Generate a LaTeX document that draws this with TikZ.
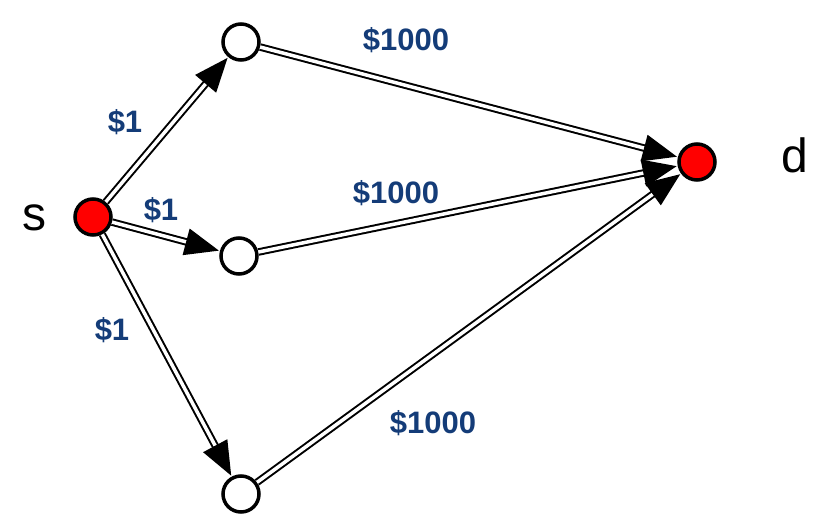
\documentclass[tikz,border=0pt]{standalone}
\usepackage{fontspec}
\setmainfont{Liberation Sans}
\usetikzlibrary{arrows.meta}
\definecolor{lbl}{RGB}{20,60,120}
\begin{document}
\begin{tikzpicture}[x=1pt,y=-1pt,
  vert/.style={circle,draw=black,line width=3.5pt,minimum size=36pt,inner sep=0pt},
  edge/.style={draw=black,double=white,double distance=3.5pt,line width=2pt,
    -{Triangle[length=34pt,width=27pt]},shorten >=1pt},
  cost/.style={text=lbl,font=\bfseries\fontsize{31}{32}\selectfont}]
\useasboundingbox (0,0) rectangle (830,522);
\node[vert,fill=red] (s) at (93,217) {};
\node[vert,fill=red] (d) at (697,162) {};
\node[vert,fill=white] (a) at (241,42) {};
\node[vert,fill=white] (b) at (239,256) {};
\node[vert,fill=white] (c) at (241,494) {};
\node[font=\fontsize{48}{50}\selectfont] (sl) at (35,218) {s};
\node[font=\fontsize{48}{50}\selectfont] (dl) at (795,155) {d};
\draw[edge] (s) -- (a);
\draw[edge] (s) -- (b);
\draw[edge] (s) -- (c);
\draw[edge] (a) -- (d);
\draw[edge] (b) -- (d);
\draw[edge] (c) -- (d);
\node[cost] (l1) at (125,122) {\$1};
\node[cost] (l2) at (161,210) {\$1};
\node[cost] (l3) at (112,330) {\$1};
\node[cost] (l4) at (406,40) {\$1000};
\node[cost] (l5) at (396,193) {\$1000};
\node[cost] (l6) at (433,423) {\$1000};
\end{tikzpicture}
\end{document}
